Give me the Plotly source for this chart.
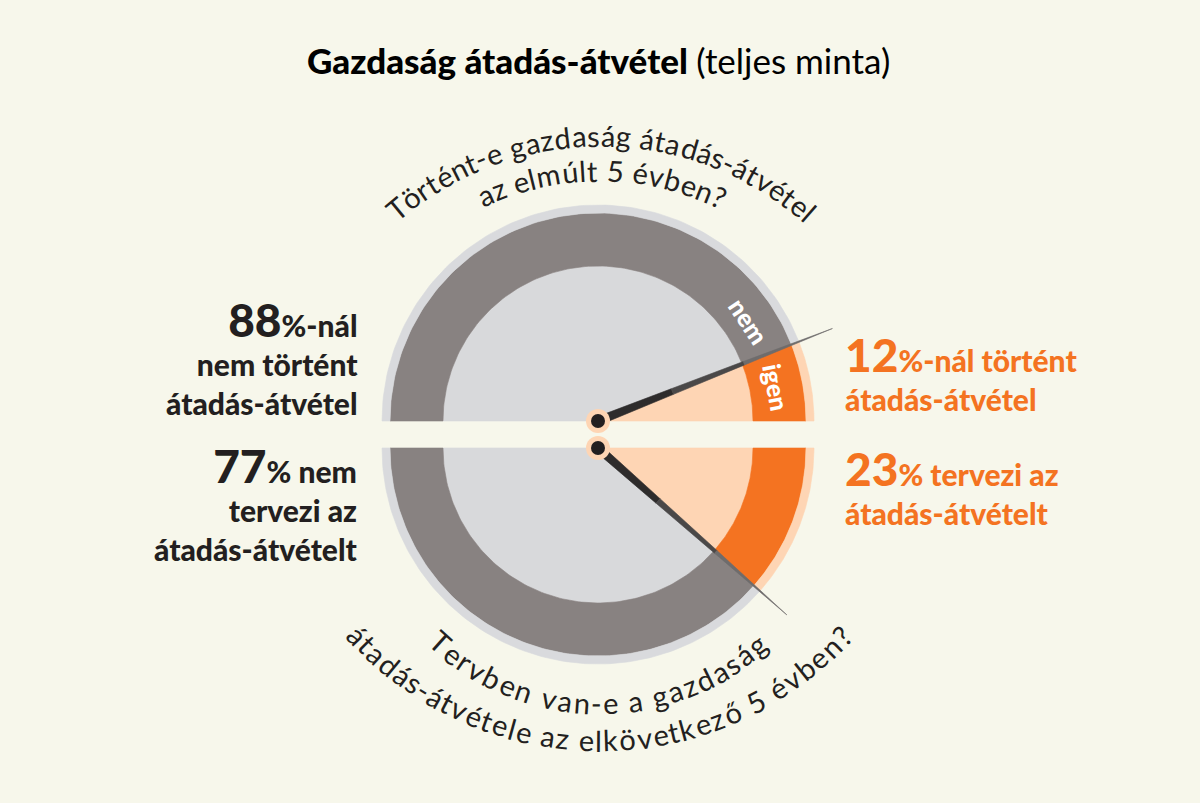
import numpy as np
import plotly.graph_objects as go

# --- data ---
top_labels = ["nem", "igen"]
top_values = [88, 12]
bottom_labels = ["nem", "igen"]
bottom_values = [77, 23]

title_bold = "Gazdaság átadás-átvétel"
title_rest = "(teljes minta)"
top_question = ["Történt-e gazdaság átadás-átvétel", "az elmúlt 5 évben?"]
bottom_question = ["Tervben van-e a gazdaság", "átadás-átvétele az elkövetkező 5 évben?"]

left_blocks = [("88", ["%-nál", "nem történt", "átadás-átvétel"]),
               ("77", ["% nem", "tervezi az", "átadás-átvételt"])]
right_blocks = [("12", ["%-nál történt", "átadás-átvétel"]),
                ("23", ["% tervezi az", "átadás-átvételt"])]

# --- style ---
BG = "#f7f7eb"
DARK = "#231f20"
ORANGE = "#f47321"
PEACH = "#fed5b4"
colors = {
    "nem": ("#d8d9db", "#888281", "#d9dadd"),
    "igen": (PEACH, ORANGE, PEACH),
}
CX = 598
CY_TOP, CY_BOT = 421, 448
R_IN, R_RING, R_OUT, R_NEEDLE = 155, 208, 216, 252
FONT = "Lato"


def pt(cx, cy, r, t):
    a = np.radians(t)
    return cx + r * np.cos(a), cy - r * np.sin(a)


def sector(cx, cy, r0, r1, t0, t1):
    ts = np.linspace(t0, t1, 120)
    xo, yo = pt(cx, cy, r1, ts)
    if r0 == 0:
        xi, yi = np.array([cx]), np.array([cy])
    else:
        xi, yi = pt(cx, cy, r0, ts[::-1])
    x = np.concatenate([xo, xi, xo[:1]])
    y = np.concatenate([yo, yi, yo[:1]])
    return x, y


fig = go.Figure()


def add_poly(x, y, color):
    fig.add_trace(go.Scatter(x=x, y=y, mode="lines", fill="toself",
                             fillcolor=color, line=dict(color=color, width=0.6),
                             hoverinfo="skip"))


def half(cy, labels, values, start, direction):
    t = start
    bounds = []
    for lab, v in zip(labels, values):
        t1 = t + direction * 180 * v / 100
        c_in, c_ring, c_out = colors[lab]
        add_poly(*sector(CX, cy, 0, R_IN, t, t1), c_in)
        add_poly(*sector(CX, cy, R_IN, R_RING, t, t1), c_ring)
        add_poly(*sector(CX, cy, R_RING, R_OUT, t, t1), c_out)
        bounds.append((t, t1))
        t = t1
    return bounds


def needle(cy, t):
    a = np.radians(t)
    n = np.array([-np.sin(a), -np.cos(a)])
    d = np.array([np.cos(a), -np.sin(a)])
    c = np.array([CX, cy])

    def quad(r0, w0, r1, w1):
        p = np.array([c + d * r0 + n * w0, c + d * r1 + n * w1,
                      c + d * r1 - n * w1, c + d * r0 - n * w0, c + d * r0 + n * w0])
        return p[:, 0], p[:, 1]

    add_poly(*quad(0, 4.2, 80, 3.0), "#2e2c2c")
    add_poly(*quad(80, 3.0, R_IN + 2, 1.8), "#4a4848")
    add_poly(*quad(R_IN + 2, 1.8, R_NEEDLE, 0.3), "#6e6c6c")


top_b = half(CY_TOP, top_labels, top_values, 180, -1)
bot_b = half(CY_BOT, bottom_labels, bottom_values, -180, 1)
needle(CY_TOP, top_b[0][1])
needle(CY_BOT, bot_b[0][1])

fig.add_trace(go.Scatter(x=[CX, CX], y=[CY_TOP, CY_BOT], mode="markers",
                         marker=dict(size=24, color=PEACH), hoverinfo="skip"))
fig.add_trace(go.Scatter(x=[CX, CX], y=[CY_TOP, CY_BOT], mode="markers",
                         marker=dict(size=14, color=DARK), hoverinfo="skip"))

annotations = []

# segment labels on the top ring
igen_mid = (top_b[1][0] + top_b[1][1]) / 2
nem_pos = top_b[0][1] + 12
r_mid = (R_IN + R_RING) / 2
for lab, t in (("igen", igen_mid), ("nem", nem_pos)):
    x, y = pt(CX, CY_TOP, r_mid, t)
    annotations.append(dict(x=x, y=y, xref="x", yref="y", text=lab, showarrow=False,
                            textangle=90 - t, xanchor="center", yanchor="middle",
                            font=dict(family=FONT, size=25, color="white", weight=900)))

# curved question texts
W = {"a": .49, "b": .55, "c": .46, "d": .55, "e": .51, "g": .50, "i": .24, "k": .50,
     "l": .24, "m": .82, "n": .55, "o": .55, "r": .36, "s": .41, "t": .35, "u": .55,
     "v": .50, "z": .44, "T": .55, "5": .58, "?": .42, "-": .33, " ": .26}
PLAIN = {"á": "a", "é": "e", "ö": "o", "ő": "o", "ú": "u", "ü": "u", "ó": "o", "í": "i"}


def curved(text, cx, cy, R, phi0, phi1, top=True, size=29):
    w = np.array([W.get(PLAIN.get(ch, ch), .5) for ch in text])
    s = np.cumsum(w) - w / 2
    frac = (s - s[0]) / (s[-1] - s[0])
    for ch, f in zip(text, frac):
        if ch == " ":
            continue
        phi = phi0 + f * (phi1 - phi0)
        a = np.radians(phi)
        x = cx + R * np.sin(a)
        if top:
            y = cy - R * np.cos(a)
            ang = phi
        else:
            y = cy + R * np.cos(a)
            ang = -phi
        annotations.append(dict(x=x, y=y, xref="x", yref="y", text=ch, showarrow=False,
                                textangle=ang, xanchor="center", yanchor="middle",
                                font=dict(family=FONT, size=size, color=DARK, weight=400)))


curved(top_question[0], 600, 455, 320, -39.6, 41.0, top=True)
curved(top_question[1], 600, 455, 285, -23.9, 24.7, top=True)
curved(bottom_question[0], 600, 465, 238, -42.0, 41.0, top=False)
curved(bottom_question[1], 600, 410, 330, -47.2, 47.0, top=False)


def block(blocks, x, ys, anchor, color):
    for (big, lines), y in zip(blocks, ys):
        txt = "<span style='font-size:46px'>%s</span>%s" % (big, "<br>".join(lines))
        annotations.append(dict(x=x, y=y, xref="x", yref="y", text=txt, showarrow=False,
                                xanchor=anchor, yanchor="middle", align=anchor,
                                font=dict(family=FONT, size=30, color=color, weight=900)))


block(left_blocks, 360, [356, 502], "right", DARK)
block(right_blocks, 843, [372, 486], "left", ORANGE)

annotations.append(dict(x=598, y=60, xref="x", yref="y", showarrow=False,
                        text="%s <span style='font-weight:400'>%s</span>" % (title_bold, title_rest),
                        xanchor="center", yanchor="middle",
                        font=dict(family=FONT, size=35, color="black", weight=900)))

fig.update_layout(
    width=1200, height=803,
    margin=dict(l=0, r=0, t=0, b=0),
    paper_bgcolor=BG, plot_bgcolor=BG,
    showlegend=False, hovermode=False,
    xaxis=dict(range=[0, 1200], visible=False, fixedrange=True),
    yaxis=dict(range=[803, 0], visible=False, fixedrange=True),
    annotations=annotations,
)

fig.write_html("out.html", config={"displayModeBar": False},
               post_script="document.body.style.margin='0';document.body.style.background='%s';" % BG)
